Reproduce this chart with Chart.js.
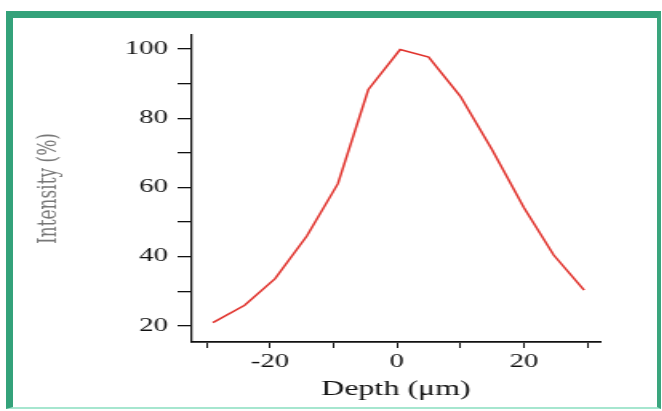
<!DOCTYPE html>
<html>
<head>
<meta charset="utf-8">
<script src="https://cdn.jsdelivr.net/npm/chart.js@4.4.1/dist/chart.umd.min.js"></script>
<style>
  html, body { margin: 0; padding: 0; background: #fff; }
  body { width: 662px; height: 411px; position: relative; overflow: hidden; }
  /* the source figure is stretched sideways, so the chart is drawn narrow and scaled */
  #wrap {
    position: absolute; left: 0; top: 0;
    width: 414px; height: 411px;
    transform: scaleX(1.6); transform-origin: 0 0;
  }
  #frame {
    position: absolute; left: 6px; top: 11px; right: 1px; bottom: 2px;
    border-top: 7px solid #34a27a;
    border-left: 7px solid #34a27a;
    border-right: 4px solid #3aa57d;
    border-bottom: 2px solid #a6e6cf;
    pointer-events: none;
  }
</style>
</head>
<body>
<div id="wrap"><canvas id="chart"></canvas></div>
<div id="frame"></div>
<script>
const depth = [-29, -24, -19.2, -14.2, -9.3, -4.5, 0.5, 5, 10, 15, 20, 24.7, 29.5]
const intensity = [21, 26, 33.7, 46, 61.1, 88.3, 99.8, 97.6, 86.3, 70.9, 54.2, 40.5, 30.4]

const xTickValues = [-30, -20, -10, 0, 10, 20, 30]
const xTickLabels = [``, `-20`, ``, `0`, ``, `20`, ``]
const yTickValues = [20, 30, 40, 50, 60, 70, 80, 90, 100]
const yTickLabels = [`20`, ``, `40`, ``, `60`, ``, `80`, ``, `100`]

const serif = `"Liberation Serif", "Times New Roman", serif`

const config = {
  type: `line`,
  data: {
    datasets: [
      {
        label: `Intensity`,
        data: depth.map((d, i) => ({ x: d, y: intensity[i] })),
        borderColor: `#e0302a`,
        borderWidth: 1.5,
        pointRadius: 0,
        tension: 0,
        fill: false,
      },
    ],
  },
  options: {
    animation: false,
    responsive: true,
    maintainAspectRatio: false,
    layout: {
      padding: { left: 0, right: 39, top: 35, bottom: 0 },
    },
    scales: {
      x: {
        type: `linear`,
        min: -32.3,
        max: 32,
        afterBuildTicks: (scale) => {
          scale.ticks = xTickValues.map((v) => ({ value: v }))
        },
        afterFit: (scale) => {
          scale.height = 69
        },
        grid: {
          drawOnChartArea: false,
          drawTicks: true,
          tickLength: 6,
          color: `#111`,
          lineWidth: 1,
        },
        border: { display: true, color: `#111`, width: 1.8 },
        ticks: {
          autoSkip: false,
          maxRotation: 0,
          padding: 3,
          color: `#111`,
          font: { family: serif, size: 18 },
          callback: (value, index) => xTickLabels[index],
        },
        title: {
          display: true,
          text: `Depth (μm)`,
          color: `#111`,
          font: { family: serif, size: 20 },
          padding: { top: 0, bottom: 9 },
        },
      },
      y: {
        type: `linear`,
        min: 15.4,
        max: 104,
        afterBuildTicks: (scale) => {
          scale.ticks = yTickValues.map((v) => ({ value: v }))
        },
        afterFit: (scale) => {
          scale.width = 120
        },
        grid: {
          drawOnChartArea: false,
          drawTicks: true,
          tickLength: 9,
          color: `#111`,
          lineWidth: 1.3,
        },
        border: { display: true, color: `#111`, width: 1.25 },
        ticks: {
          autoSkip: false,
          padding: 6,
          color: `#111`,
          font: { family: serif, size: 18 },
          callback: (value, index) => yTickLabels[index],
        },
        title: {
          display: true,
          text: `Intensity (%)`,
          color: `#777`,
          font: { family: `"DejaVu Serif", serif`, size: 17 },
          padding: { top: 20, bottom: 0 },
        },
      },
    },
    plugins: {
      legend: { display: false },
      tooltip: { enabled: false },
    },
  },
}

new Chart(document.querySelector(`#chart`), config)
</script>
</body>
</html>
